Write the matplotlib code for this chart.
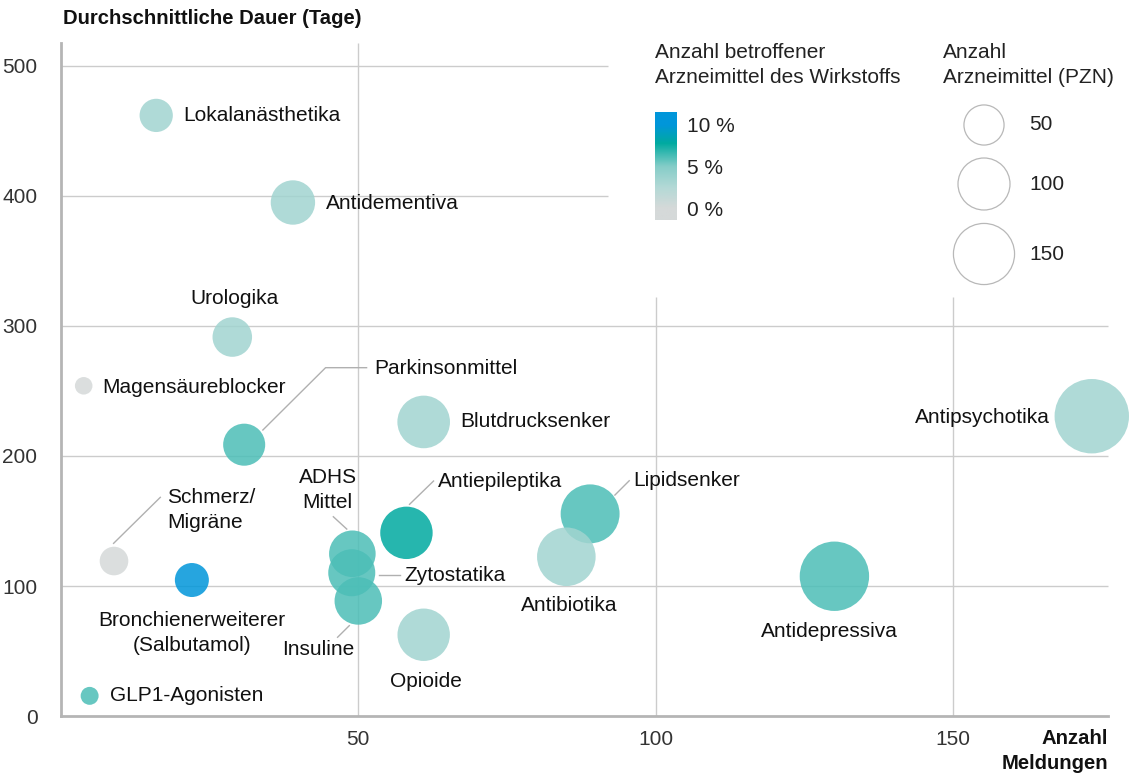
import numpy as np
import matplotlib
matplotlib.use("Agg")
import matplotlib.pyplot as plt
from matplotlib.colors import LinearSegmentedColormap, Normalize
from matplotlib.transforms import Affine2D

plt.rcParams['font.family'] = ['Liberation Sans', 'DejaVu Sans']
plt.rcParams['font.size'] = 15

# data
names = ["Lokalanästhetika", "Antidementiva", "Urologika", "Magensäureblocker",
         "Parkinsonmittel", "Blutdrucksenker", "Schmerz/\nMigräne",
         "Bronchienerweiterer\n(Salbutamol)", "GLP1-Agonisten", "ADHS\nMittel",
         "Zytostatika", "Insuline", "Antiepileptika", "Opioide", "Antibiotika",
         "Lipidsenker", "Antidepressiva", "Antipsychotika"]
meldungen = [16, 39, 28.8, 3.8, 30.8, 61, 8.9, 22, 4.8, 49, 48.9, 50, 58.1, 61, 85, 89, 130.1, 173.4]
dauer = [462, 395, 291.5, 254, 208.7, 226.2, 119.2, 104.6, 15.5, 124.8, 110.2, 88.5, 140.9, 62.5, 122.5, 155.5, 107.5, 230.6]
pzn = [29, 66, 48, 2.3, 57, 103, 18, 31, 2.6, 75, 77, 79, 102, 102, 135, 137, 204, 241]
anteil = [3.5, 3.5, 3.5, 0, 6.2, 3.5, 0, 10, 6.2, 6.2, 6.2, 6.2, 7.8, 3.5, 3.5, 6.2, 6.2, 3.5]

y_ticks = [0, 100, 200, 300, 400, 500]
x_ticks = [50, 100, 150]
size_legend = [50, 100, 150]
cbar_ticks = [0, 5, 10]

# label layout: offset (px) from bubble centre, alignment, leader polyline
layout = {
    "Lokalanästhetika": (27, 0, "left", None),
    "Antidementiva": (33, -1, "left", None),
    "Urologika": (2, 39, "center", None),
    "Magensäureblocker": (19, -1.5, "left", None),
    "Parkinsonmittel": (130, 76, "left", [(18.7, 14.7), (81.4, 77), (122.4, 77)]),
    "Blutdrucksenker": (36.3, 0, "left", None),
    "Schmerz/\nMigräne": (53, 51, "left", [(-0.4, 17.7), (46.3, 63.7)]),
    "Bronchienerweiterer\n(Salbutamol)": (0, -52.5, "center", None),
    "GLP1-Agonisten": (20, 0, "left", None),
    "ADHS\nMittel": (-24.8, 64, "center", [(-19, 37), (-5.6, 24.7)]),
    "Zytostatika": (52.5, -2.3, "left", [(26.8, -2.3), (47.8, -2.3)]),
    "Insuline": (-40.5, -49, "center", [(-20.7, -36.3), (-9, -24.7)]),
    "Antiepileptika": (31.5, 51.8, "left", [(3.1, 28.5), (27.1, 51.8)]),
    "Opioide": (1.8, -46.3, "center", None),
    "Antibiotika": (2.7, -49, "center", None),
    "Lipidsenker": (43, 33.8, "left", [(24.8, 18.8), (39.1, 33.1)]),
    "Antidepressiva": (-4.7, -55.4, "center", None),
    "Antipsychotika": (-41.5, -1.5, "right", None),
}

cmap = LinearSegmentedColormap.from_list("anteil", [
    (0.0, "#d5d9d9"), (0.25, "#b3d9d6"), (0.5, "#85cdc8"),
    (0.78, "#00aaa0"), (1.0, "#0096da")])
norm = Normalize(vmin=0, vmax=10, clip=True)


def bubble_area(n):
    r_px = 5.7 + 2.03 * np.sqrt(np.asarray(n, dtype=float))
    return (1.44 * r_px) ** 2


W, H = 1134, 775
fig = plt.figure(figsize=(W / 100, H / 100), dpi=100)
ax = fig.add_axes([61.1 / W, (H - 716) / H, 180 * 5.944 / W, 520 * 1.3 / H])
ax.set_xlim(0, 180)
ax.set_ylim(0, 520)

grid_kw = dict(color="#cccccc", lw=1, zorder=0)
ax.hlines([500, 400], 0, 92, **grid_kw)
ax.hlines([100, 200, 300], 0, 176.1, **grid_kw)
ax.vlines([50], 0, 517.7, **grid_kw)
ax.vlines([100, 150], 0, 322, **grid_kw)

for s in ["top", "right"]:
    ax.spines[s].set_visible(False)
for s in ["left", "bottom"]:
    ax.spines[s].set_color("#b5b5b5")
    ax.spines[s].set_linewidth(2)
ax.spines["left"].set_bounds(0, 517.7)
ax.spines["bottom"].set_bounds(0, 176.1)

ax.set_yticks(y_ticks)
ax.set_xticks(x_ticks)
ax.tick_params(length=0, colors="#333333", labelsize=15)
ax.tick_params(axis="y", pad=17)
ax.tick_params(axis="x", pad=10)

order = np.argsort(pzn)[::-1]
ax.scatter(np.array(meldungen)[order], np.array(dauer)[order],
           s=bubble_area(np.array(pzn)[order]), c=np.array(anteil)[order],
           cmap=cmap, norm=norm, alpha=0.85, linewidths=0, zorder=2)

for name, x, y in zip(names, meldungen, dauer):
    dx, dy, ha, leader = layout[name]
    ax.annotate(name, (x, y), xytext=(dx, dy), textcoords="offset pixels",
                ha=ha, va="center", multialignment=ha,
                fontsize=15, color="#111111", zorder=4, linespacing=1.4)
    if leader:
        px, py = ax.transData.transform((x, y))
        lx, ly = zip(*leader)
        ax.plot(lx, ly, color="#b0b0b0", lw=1, zorder=3,
                transform=Affine2D().translate(px, py), clip_on=False)

# axis titles
fig.text(63 / W, 1 - 18 / H, "Durchschnittliche Dauer (Tage)", fontsize=14.6,
         fontweight="bold", ha="left", va="center", color="#111111")
fig.text(1108 / W, 1 - 751 / H, "Anzahl\nMeldungen", fontsize=14.6,
         fontweight="bold", ha="right", va="center", multialignment="right",
         color="#111111", linespacing=1.4)

# colour legend
fig.text(655 / W, 1 - 65 / H, "Anzahl betroffener\nArzneimittel des Wirkstoffs",
         fontsize=15, ha="left", va="center", color="#222222", linespacing=1.4)
cax = fig.add_axes([655 / W, (H - 220) / H, 22 / W, 108 / H])
grad = np.linspace(11.5, -1.4, 200).reshape(-1, 1)
cax.imshow(grad, cmap=cmap, norm=norm, aspect="auto", extent=(0, 1, -1.4, 11.5))
cax.set_ylim(-1.4, 11.5)
cax.set_xticks([])
cax.set_yticks(cbar_ticks)
cax.set_yticklabels([f"{t} %" for t in cbar_ticks])
cax.yaxis.tick_right()
cax.tick_params(length=0, pad=7, labelsize=15, colors="#222222")
for s in cax.spines.values():
    s.set_visible(False)

# size legend
fig.text(943 / W, 1 - 65 / H, "Anzahl\nArzneimittel (PZN)", fontsize=15,
         ha="left", va="center", color="#222222", linespacing=1.4)
lax = fig.add_axes([0, 0, 1, 1], facecolor="none")
lax.set_xlim(0, W)
lax.set_ylim(H, 0)
lax.axis("off")
leg_y = [125, 184, 254]
lax.scatter([984] * 3, leg_y, s=bubble_area(size_legend), facecolors="none",
            edgecolors="#b8b8b8", linewidths=0.9)
for n, yy in zip(size_legend, leg_y):
    lax.text(1029, yy, str(n), fontsize=15, ha="left", va="center", color="#222222")

fig.savefig("out.png", dpi=100)
